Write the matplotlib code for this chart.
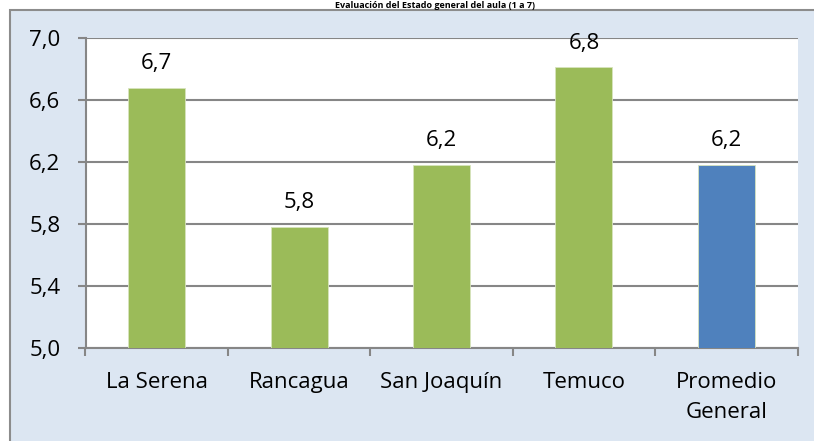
import matplotlib
matplotlib.use("Agg")
import matplotlib.pyplot as plt
from matplotlib.patches import Rectangle
from matplotlib.ticker import FixedLocator

categories = ["La Serena", "Rancagua", "San Joaquín", "Temuco", "Promedio\nGeneral"]
values = [6.68, 5.78, 6.18, 6.81, 6.18]
labels = ["6,7", "5,8", "6,2", "6,8", "6,2"]
colors = ["#9bbb59", "#9bbb59", "#9bbb59", "#9bbb59", "#4f81bd"]
yticks = [5.0, 5.4, 5.8, 6.2, 6.6, 7.0]
ytick_labels = ["5,0", "5,4", "5,8", "6,2", "6,6", "7,0"]
title = "Evaluación del Estado general del aula (1 a 7)"

plt.rcParams['font.family'] = ['Open Sans', 'DejaVu Sans']

W, H = 814, 441
fig = plt.figure(figsize=(W/100, H/100), dpi=100)
fig.patch.set_facecolor("white")

# chart area background with border
bg = Rectangle((9.5/W, -0.1), 1.0, 1 - 9.5/H + 0.1, transform=fig.transFigure,
               facecolor="#dce6f2", edgecolor="#8c8c8c", linewidth=1.5, zorder=-5)
fig.patches.append(bg)

fig.text(0.535, 1 - 8/H, title, ha="center", va="baseline", fontsize=6.5,
         fontweight="bold", color="black")

ax = fig.add_axes([85.5/W, 1 - 348/H, (797.5-85.5)/W, (348-38)/H])
ax.set_zorder(1)
ax.set_facecolor("white")
x = list(range(len(categories)))
ax.bar(x, values, width=0.4, color=colors, edgecolor="#d7e4bd", linewidth=0.6, zorder=3)
for xi, v, lab in zip(x, values, labels):
    ax.text(xi, v + 0.09, lab, ha="center", va="bottom", fontsize=16, color="black")

ax.set_xlim(-0.5, len(categories) - 0.5)
ax.set_ylim(5.0, 7.0)
ax.set_yticks(yticks)
ax.set_yticklabels(ytick_labels, fontsize=16)
ax.yaxis.grid(True, color="#868686", linewidth=1.5, zorder=0)
ax.set_axisbelow(True)
ax.set_xticks(x)
ax.set_xticklabels(categories, fontsize=16, linespacing=1.6)
ax.tick_params(axis="x", which="major", length=0, pad=17)
ax.xaxis.set_minor_locator(FixedLocator([i - 0.5 for i in range(len(categories) + 1)]))
ax.tick_params(axis="x", which="minor", length=6, width=1.5, color="#868686")
ax.tick_params(axis="y", length=6, width=1.5, color="#868686", pad=12)
for s in ["top", "right"]:
    ax.spines[s].set_visible(False)
ax.spines["left"].set_color("#868686")
ax.spines["bottom"].set_color("#868686")
ax.spines["left"].set_linewidth(1.5)
ax.spines["bottom"].set_linewidth(1.5)

fig.savefig("out.png", dpi=100)
